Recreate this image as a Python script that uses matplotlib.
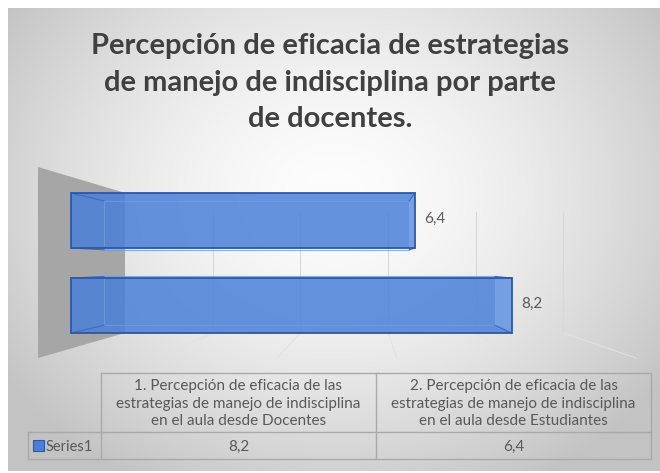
import matplotlib
matplotlib.use("Agg")
import matplotlib.pyplot as plt
import matplotlib.transforms as mtransforms
from matplotlib.patches import Polygon
import numpy as np

plt.rcParams['font.family'] = ['Lato', 'DejaVu Sans']

title = "Percepción de eficacia de estrategias\nde manejo de indisciplina por parte\nde docentes."
categories = ["1. Percepción de eficacia de las\nestrategias de manejo de indisciplina\nen el aula desde Docentes",
              "2. Percepción de eficacia de las\nestrategias de manejo de indisciplina\nen el aula desde Estudiantes"]
values = [8.2, 6.4]
labels = ["8,2", "6,4"]
series_name = "Series1"
grid_ticks = [2, 4, 6, 8, 10]

W, H = 660, 473
fig = plt.figure(figsize=(W / 100, H / 100), dpi=100)

# background panel with soft radial gradient
bg = fig.add_axes([0, 0, 1, 1])
bg.set_xlim(0, W)
bg.set_ylim(H, 0)
bg.axis('off')
yy, xx = np.mgrid[0:H, 0:W]
t = np.sqrt(((xx - 330) / 360.0) ** 2 + ((yy - 190) / 300.0) ** 2)
g = np.clip(253 - 48 * t ** 1.6, 195, 253) / 255.0
img = np.dstack([g, g, g])
bg.imshow(img, extent=(8, W, 471, 9), aspect='auto', zorder=0)

# 3D-ish bar plot: world x = value, world y = pixel row
U = 59.8          # px per unit on the front plane
x0 = 38           # value 0 on the front plane
vp = (364, H - 264)
s_front, s_back, s_wall = 0.899, 0.798, 0.733

ax = fig.add_axes([0, 0, 1, 1], zorder=1)
ax.set_autoscale_on(False)
ax.set_xlim(-x0 / U, (W - x0) / U)
ax.set_ylim(H, 0)
ax.axis('off')
ax.patch.set_alpha(0)


def depth(s):
    return ax.transData + mtransforms.Affine2D().translate(-vp[0], -vp[1]).scale(s).translate(vp[0], vp[1])


def P(v, y, s):
    return depth(s).transform((v, y))


ident = mtransforms.IdentityTransform()
wall_top, wall_bot = 167, 358

# left wall
wall = [P(0, wall_top, 1), P(0, wall_top, s_wall), P(0, wall_bot, s_wall), P(0, wall_bot, 1)]
ax.add_patch(Polygon(wall, closed=True, fc='#a6a6a6', ec='none', transform=ident, zorder=1))

# gridlines on back wall and floor
for v in grid_ticks:
    a, b = P(v, wall_top + 26, s_wall), P(v, wall_bot, s_wall)
    ax.plot([a[0], b[0]], [a[1], b[1]], color='#d9d9d9', lw=0.8, transform=ident, zorder=1)
    c = P(v, wall_bot, 1)
    ax.plot([b[0], c[0]], [b[1], c[1]], color='#e2e2e2', lw=0.7, transform=ident, zorder=1)

bar_y = [310.2, 215.6]
bar_h = 61.2
face = '#4a80d8'
edge = '#2c57a6'

ax.barh(bar_y, values, height=bar_h, left=0, color=face, alpha=0.85,
        edgecolor='none', transform=depth(s_front), zorder=3)
ax.barh(bar_y, values, height=bar_h, left=0, color='none',
        edgecolor='#6f9be0', lw=0.8, alpha=0.8, transform=depth(s_back), zorder=4)

for y, v, lab in zip(bar_y, values, labels):
    y0, y1 = y - bar_h / 2, y + bar_h / 2
    # lighter end face
    end = [P(v, y0, s_front), P(v, y0, s_back), P(v, y1, s_back), P(v, y1, s_front)]
    ax.add_patch(Polygon(end, closed=True, fc='#8fb3ee', ec='none', alpha=0.45,
                         transform=ident, zorder=4))
    for cx in (0, v):
        for cy in (y0, y1):
            a, b = P(cx, cy, s_front), P(cx, cy, s_back)
            ax.plot([a[0], b[0]], [a[1], b[1]], color='#3d6cc2', lw=0.8,
                    transform=ident, zorder=4)
    ax.barh([y], [v], height=bar_h, left=0, color='none', edgecolor=edge,
            lw=1.3, transform=depth(s_front), zorder=5)
    px, py = P(v, y, s_front)
    ax.text(px + 9, py + 2, lab, transform=ident, fontsize=11, color='#595959',
            ha='left', va='center', zorder=6)

# title
fig.text(0.5, 1 - 33 / H, title, ha='center', va='top', fontsize=21,
         fontweight='bold', color='#404040', linespacing=1.5)

# data table
tb = fig.add_axes([0, 0, 1, 1], zorder=2)
tb.set_xlim(0, W)
tb.set_ylim(H, 0)
tb.axis('off')
tb.patch.set_alpha(0)
lc = '#a9a9a9'
left, mid, right = 101, 376, 651
top, row, bottom = 373, 432, 459
tb.plot([left, right, right, left, left], [top, top, bottom, bottom, top], color=lc, lw=1)
tb.plot([28, left], [row, row], color=lc, lw=1)
tb.plot([28, 28, left], [row, bottom, bottom], color=lc, lw=1)
tb.plot([left, right], [row, row], color=lc, lw=1)
tb.plot([mid, mid], [top, bottom], color=lc, lw=1)
cols = [(left + mid) / 2, (mid + right) / 2]
for cx, cat, lab in zip(cols, categories, labels):
    tb.text(cx, (top + row) / 2 + 1, cat, ha='center', va='center', fontsize=11,
            color='#595959', linespacing=1.28)
    tb.text(cx, (row + bottom) / 2 + 1, lab, ha='center', va='center', fontsize=11,
            color='#595959')
tb.add_patch(plt.Rectangle((33, 440), 11, 11, fc=face, ec=edge, lw=0.8))
tb.text(46, (row + bottom) / 2 + 1, series_name, ha='left', va='center', fontsize=10.5,
        color='#595959')

fig.savefig('out.png', dpi=100)
